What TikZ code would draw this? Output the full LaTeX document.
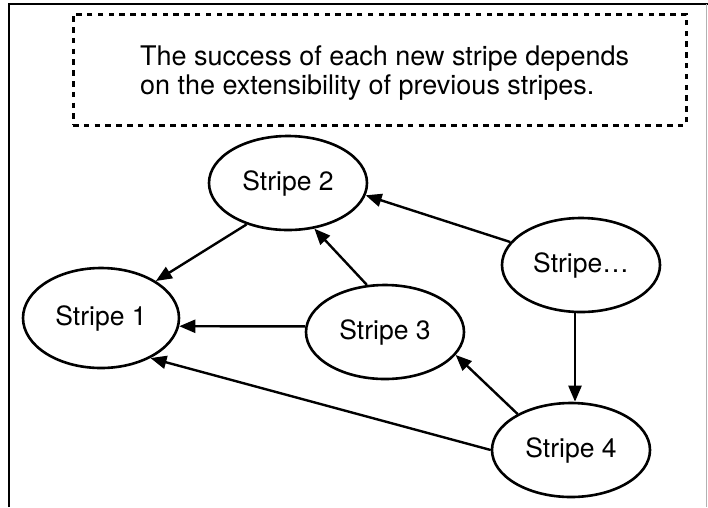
\documentclass[tikz,border=0pt]{standalone}
\usepackage{fontspec}
\setmainfont{TeX Gyre Heros}
\usetikzlibrary{arrows.meta,shapes.geometric}
\begin{document}
\begin{tikzpicture}[x=1pt,y=-1pt,
  stripe/.style={ellipse,draw,line width=2.6pt,minimum width=158pt,minimum height=94pt,inner sep=0pt,font=\fontsize{26.5}{30}\selectfont},
  arr/.style={line width=2.4pt,-{Triangle[length=16pt,width=13pt]}},
  frameline/.style={line width=2.4pt},
  notebox/.style={draw,line width=3pt,dash pattern=on 5.5pt off 5.3pt,minimum width=613pt,minimum height=111pt,inner sep=0pt}]
\useasboundingbox (0,0) rectangle (708,507);
\draw[frameline] (9,507) -- (9,4) -- (708,4);
\draw[gray!60,line width=1pt] (706,4) -- (706,507);
\node[notebox] (note) at (379.5,69.5) {};
\node[anchor=north west,inner sep=0pt,align=left,font=\fontsize{27}{29}\selectfont] (notetext) at (140,45.5)
  {The success of each new stripe depends\\on the extensibility of previous stripes.};
\node[stripe,minimum width=156pt,minimum height=100pt] (s1) at (101,318) {Stripe 1};
\node[stripe] (s2) at (288,183) {Stripe 2};
\node[stripe] (s3) at (385,332) {Stripe 3};
\node[stripe] (s4) at (571,450) {Stripe 4};
\node[stripe] (se) at (581,265) {Stripe…};
\coordinate (ax) at (575,0);
\draw[arr] (s2.225) -- (s1.34);
\draw[arr] (s3.111) -- (s2.300);
\draw[arr] (s3.176) -- (s1.354);
\draw[arr] (se.162) -- (s2.351);
\draw[arr] (se.south -| ax) -- (s4.north -| ax);
\draw[arr] (s4.146) -- (s3.342);
\draw[arr] (s4.180) -- (s1.321);
\end{tikzpicture}
\end{document}
